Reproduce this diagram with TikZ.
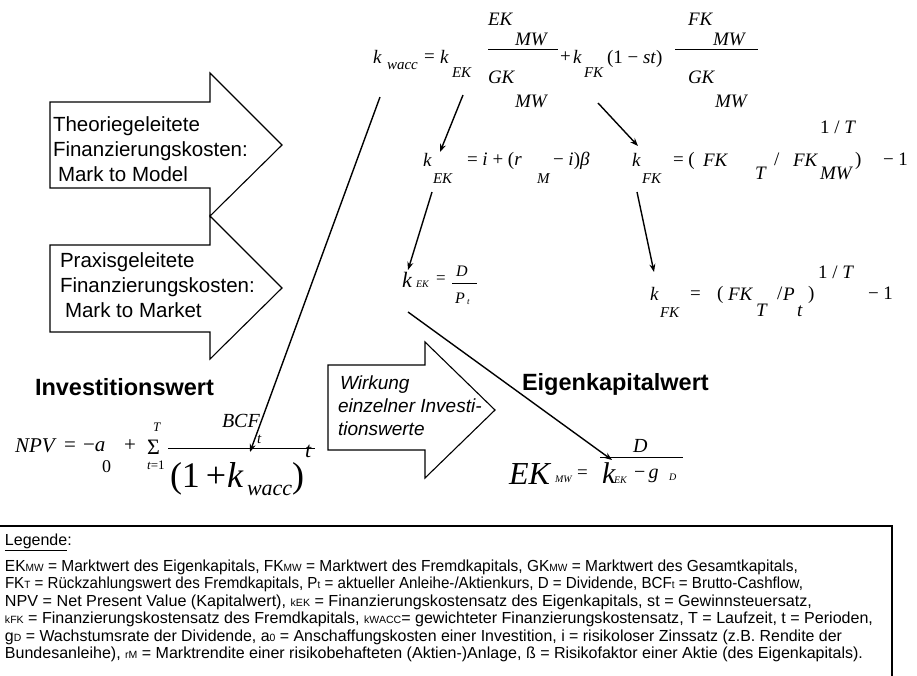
\documentclass[tikz,border=0pt]{standalone}
\usepackage{fontspec}
\setmainfont{Liberation Sans}
\newfontfamily\tms{Liberation Serif}
\usetikzlibrary{arrows.meta}
\newcommand\fs[1]{\fontsize{#1}{#1}\selectfont}
\newcommand\lsm[1]{{\fs{10.5}#1}}
\newlength\fitlen
\newcommand\fitw[2]{\settowidth\fitlen{#2}\pgfmathsetmacro\fitsx{#1/\fitlen}\scalebox{\fitsx}[1]{#2}}
\begin{document}
\begin{tikzpicture}[x=1pt,y=-1pt,
  t/.style={anchor=base west,inner sep=0pt,outer sep=0pt},
  mb/.style={t,font=\tms\itshape\fs{19}},
  ms/.style={t,font=\tms\itshape\fs{15}},
  ub/.style={t,font=\tms\fs{19}},
  conn/.style={line width=1.4pt,-{Stealth[length=8pt,width=6pt]}},
  blk/.style={draw,line width=1.1pt,fill=white,line join=miter},
  arw/.style={t,font=\fs{20.5}},
  arwi/.style={t,font=\fs{19}\itshape},
  head/.style={t,font=\fs{23.5}\bfseries},
  leg/.style={t,font=\fs{16}}]
\useasboundingbox (0,0) rectangle (917,675);

% ---------- block arrows ----------
\draw[blk] (50,102) -- (210,102) -- (210,73) -- (282,145) -- (210,216) -- (210,188) -- (50,188) -- cycle;
\draw[blk] (50,245) -- (210,245) -- (210,216) -- (282,288) -- (210,359) -- (210,332) -- (50,332) -- cycle;
\draw[blk] (328,365) -- (425,365) -- (425,342) -- (495,410) -- (425,478) -- (425,450) -- (328,450) -- cycle;

\node[arw] (a1) at (53,131) {Theoriegeleitete};
\node[arw] (a2) at (53,156) {Finanzierungskosten:};
\node[arw] (a3) at (58,181) {Mark to Model};
\node[arw] (b1) at (60,267) {Praxisgeleitete};
\node[arw] (b2) at (60,292) {Finanzierungskosten:};
\node[arw] (b3) at (65,317) {Mark to Market};
\node[arwi] (w1) at (340,389) {Wirkung};
\node[arwi] (w2) at (338,412) {einzelner Investi-};
\node[arwi] (w3) at (338,435) {tionswerte};

% ---------- top formula ----------
\node[mb] (r1k) at (373,63) {k};
\node[ms] (r1w) at (387,69) {wacc};
\node[ub] (r1eq) at (424,62) {=};
\node[mb] (r1k2) at (440,63) {k};
\node[ms] (r1ek) at (452,77) {EK};
\node[mb] (f1n) at (488,25) {EK};
\node[mb] (f1nm) at (515,45) {MW};
\node[mb] (f1d) at (488,83) {GK};
\node[mb] (f1dm) at (515,107) {MW};
\draw[line width=1pt] (488,49) coordinate (f1l) -- (558,49) coordinate (f1r);
\node[ub] (r1p) at (560,62) {+};
\node[mb] (r1k3) at (573,63) {k};
\node[ms] (r1fk) at (584,77) {FK};
\node[ub] (r1st) at (607,63) {(1 − \textit{st})};
\node[mb] (f2n) at (688,25) {FK};
\node[mb] (f2nm) at (713,45) {MW};
\node[mb] (f2d) at (688,83) {GK};
\node[mb] (f2dm) at (715,107) {MW};
\draw[line width=1pt] (675,49) coordinate (f2l) -- (758,49) coordinate (f2r);

% ---------- second row ----------
\node[mb] (r2k) at (423,166) {k};
\node[ms] (r2ek) at (433,183) {EK};
\node[ub] (r2eq) at (467,165) {= \textit{i} + (\textit{r}};
\node[ms] (r2m) at (537,183) {M};
\node[ub] (r2b) at (553,165) {− \textit{i})\textit{β}};
\node[mb] (r2k2) at (632,166) {k};
\node[ms] (r2fk) at (642,183) {FK};
\node[ub] (r2eq2) at (673,165) {= (};
\node[mb] (r2fk2) at (703,166) {FK};
\node[mb] (r2t) at (755,179) {T};
\node[ub] (r2sl) at (774,165) {/};
\node[mb] (r2fk3) at (793,166) {FK};
\node[mb] (r2mw) at (820,179) {MW};
\node[ub] (r2cl) at (855,165) {)};
\node[ub] (r2ex) at (820,133) {1 / \textit{T}};
\node[ub] (r2m1) at (883,165) {− 1};

% ---------- third row ----------
\node[t,font=\tms\itshape\fs{22}] (r3k) at (402,287) {k};
\node[t,font=\tms\itshape\fs{10}] (r3ek) at (416,287) {EK};
\node[t,font=\tms\fs{17}] (r3eq) at (436,283) {=};
\node[t,font=\tms\itshape\fs{16}] (r3d) at (456,276) {D};
\draw[line width=0.8pt] (452,283) coordinate (f3l) -- (477,283) coordinate (f3r);
\node[t,font=\tms\itshape\fs{16}] (r3p) at (455,303) {P};
\node[t,font=\tms\itshape\fs{9}] (r3t) at (467,304) {t};

\node[mb] (r3k2) at (650,300) {k};
\node[ms] (r3fk) at (660,317) {FK};
\node[ub] (r3eq2) at (690,299) {=};
\node[ub] (r3po) at (717,299) {(};
\node[mb] (r3fk2) at (728,300) {FK};
\node[mb] (r3T) at (756,316) {T};
\node[ub] (r3sl) at (777,299) {/};
\node[mb] (r3P) at (783,300) {P};
\node[mb] (r3tt) at (797,316) {t};
\node[ub] (r3pc) at (808,299) {)};
\node[ub] (r3ex) at (818,278) {1 / \textit{T}};
\node[ub] (r3m1) at (868,299) {− 1};

% ---------- headings ----------
\node[head] (inv) at (35,395) {Investitionswert};
\node[head] (eig) at (522,390) {Eigenkapitalwert};

% ---------- NPV ----------
\node[t,font=\tms\itshape\fs{21}] (npv) at (15,452) {NPV};
\node[t,font=\tms\fs{21}] (npveq) at (64,451) {=};
\node[t,font=\tms\fs{21}] (npvm) at (83,451) {−\textit{a}};
\node[t,font=\tms\fs{18}] (npv0) at (102,472) {0};
\node[t,font=\tms\fs{21}] (npvp) at (124,451) {+};
\node[t,font=\tms\itshape\fs{13}] (sumT) at (153,431) {T};
\node[t,font=\tms\fs{22}] (sum) at (147,454) {Σ};
\node[t,font=\tms\itshape\fs{13}] (sumt) at (147,469) {t\textup{=1}};
\draw[line width=1pt] (168,448) coordinate (f4l) -- (315,448) coordinate (f4r);
\node[t,font=\tms\itshape\fs{20}] (bcf) at (222,427) {BCF};
\node[t,font=\tms\itshape\fs{15}] (bcft) at (257,443) {t};
\node[t,font=\tms\fs{36}] (den1) at (170,487) {(1\,+};
\node[t,font=\tms\itshape\fs{36}] (denk) at (227,487) {k};
\node[t,font=\tms\itshape\fs{22}] (denw) at (247,495) {wacc};
\node[t,font=\tms\fs{36}] (denc) at (292,487) {)};
\node[t,font=\tms\itshape\fs{22}] (dent) at (305,457) {t};

% ---------- EK_MW ----------
\node[t,font=\tms\itshape\fs{32}] (ekmw) at (509,484) {EK};
\node[t,font=\tms\itshape\fs{10}] (ekmws) at (555,482) {MW};
\node[t,font=\tms\fs{19}] (ekeq) at (577,478) {=};
\node[t,font=\tms\itshape\fs{20}] (ekd) at (633,452) {D};
\draw[line width=1pt] (600,457) coordinate (f5l) -- (683,457) coordinate (f5r);
\node[t,font=\tms\itshape\fs{30}] (ekk) at (602,483) {k};
\node[t,font=\tms\itshape\fs{10}] (ekks) at (614,483) {EK};
\node[t,font=\tms\fs{20}] (ekmi) at (634,478) {−\,\textit{g}};
\node[t,font=\tms\itshape\fs{10}] (ekgd) at (669,480) {D};

% ---------- connectors ----------
\coordinate (c1s) at (380,97);  \coordinate (c1e) at (250,452);
\coordinate (c2s) at (463,95);  \coordinate (c2e) at (440,152);
\coordinate (c3s) at (598,103); \coordinate (c3e) at (638,146);
\coordinate (c4s) at (432,192); \coordinate (c4e) at (408,270);
\coordinate (c5s) at (637,192); \coordinate (c5e) at (654,272);
\coordinate (c6s) at (408,312); \coordinate (c6e) at (612,460);
\draw[conn] (c1s) -- (c1e);
\draw[conn] (c2s) -- (c2e);
\draw[conn] (c3s) -- (c3e);
\draw[conn] (c4s) -- (c4e);
\draw[conn] (c5s) -- (c5e);
\draw[conn] (c6s) -- (c6e);

% ---------- legend ----------
\draw[line width=2pt] (0,526) coordinate (lg1) -- (892,526) coordinate (lg2) -- (892,680) coordinate (lg3);
\node[leg] (lgh) at (5,545) {\underline{Legende}:};
\node[leg] (l1) at (5,571) {\fitw{793}{EK\lsm{MW} = Marktwert des Eigenkapitals, FK\lsm{MW} = Marktwert des Fremdkapitals, GK\lsm{MW} = Marktwert des Gesamtkapitals,}};
\node[leg] (l2) at (5,588.5) {\fitw{798}{FK\lsm{T} = Rückzahlungswert des Fremdkapitals, P\lsm{t} = aktueller Anleihe-/Aktienkurs, D = Dividende, BCF\lsm{t} = Brutto-Cashflow,}};
\node[leg] (l3) at (5,606) {\fitw{807}{NPV = Net Present Value (Kapitalwert), \lsm{kEK} = Finanzierungskostensatz des Eigenkapitals, st = Gewinnsteuersatz,}};
\node[leg] (l4) at (5,623.5) {\fitw{868}{\lsm{kFK} = Finanzierungskostensatz des Fremdkapitals, \lsm{kWACC}= gewichteter Finanzierungskostensatz, T = Laufzeit, t = Perioden,}};
\node[leg] (l5) at (5,641) {\fitw{837}{g\lsm{D} = Wachstumsrate der Dividende, a\lsm{0} = Anschaffungskosten einer Investition, i = risikoloser Zinssatz (z.B. Rendite der}};
\node[leg] (l6) at (5,658.5) {\fitw{858}{Bundesanleihe), \lsm{rM} = Marktrendite einer risikobehafteten (Aktien-)Anlage, ß = Risikofaktor einer Aktie (des Eigenkapitals).}};
\end{tikzpicture}
\end{document}
